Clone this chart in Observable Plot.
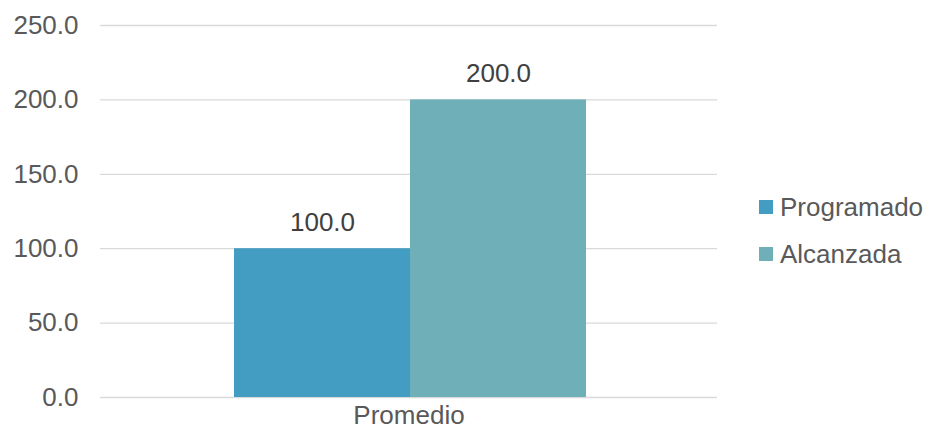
<!DOCTYPE html>
<html>
<head>
<meta charset="utf-8">
<script src="https://cdn.jsdelivr.net/npm/d3@7"></script>
<script src="https://cdn.jsdelivr.net/npm/@observablehq/plot@0.6"></script>
<style>
  html, body { margin: 0; padding: 0; background: #fff; }
  #wrap { position: relative; width: 925px; height: 429px; font-family: "Liberation Sans", Arial, sans-serif; }
  .leg { position: absolute; left: 759px; height: 26px; font-size: 26px; color: #595959; display: flex; align-items: center; line-height: 1; white-space: nowrap; }
  .sw { width: 14px; height: 14px; margin-right: 7px; flex: none; }
</style>
</head>
<body>
<div id="wrap"></div>
<script>
const categories = ["Promedio"];
const series = ["Programado", "Alcanzada"];
const values = [100.0, 200.0];
const colors = ["#439CC1", "#6FB0B8"];
const yTicks = [0, 50, 100, 150, 200, 250];

const data = series.map((s, i) => ({category: categories[0], series: s, value: values[i]}));

const plot = Plot.plot({
  width: 925,
  height: 429,
  marginLeft: 100,
  marginRight: 208,
  marginTop: 25,
  marginBottom: 32,
  style: {fontFamily: "Liberation Sans, Arial, sans-serif", fontSize: "26px", color: "#595959", background: "#fff"},
  x: {domain: series, range: [233, 586], padding: 0, axis: null},
  y: {domain: [0, 250], ticks: yTicks, tickFormat: d3.format(".1f"), tickSize: 0, tickPadding: 22, label: null},
  color: {domain: series, range: colors},
  marks: [
    Plot.ruleY(yTicks, {stroke: "#d9d9d9", strokeWidth: 1.3}),
    Plot.barY(data, {x: "series", y: "value", fill: "series"}),
    Plot.text(data, {x: "series", y: "value", text: d => d3.format(".1f")(d.value), dy: -26, fill: "#404040", fontSize: 26}),
    Plot.text(categories, {text: d => d, frameAnchor: "bottom", dy: 26, fill: "#595959", fontSize: 26})
  ]
});

const wrap = document.getElementById("wrap");
wrap.appendChild(plot);
plot.style.position = "absolute";
plot.style.left = "0";
plot.style.top = "0";

const legTops = [194, 241];
series.forEach((s, i) => {
  const d = document.createElement("div");
  d.className = "leg";
  d.style.top = legTops[i] + "px";
  const sw = document.createElement("span");
  sw.className = "sw";
  sw.style.background = colors[i];
  const t = document.createElement("span");
  t.textContent = s;
  d.appendChild(sw);
  d.appendChild(t);
  wrap.appendChild(d);
});
</script>
</body>
</html>
